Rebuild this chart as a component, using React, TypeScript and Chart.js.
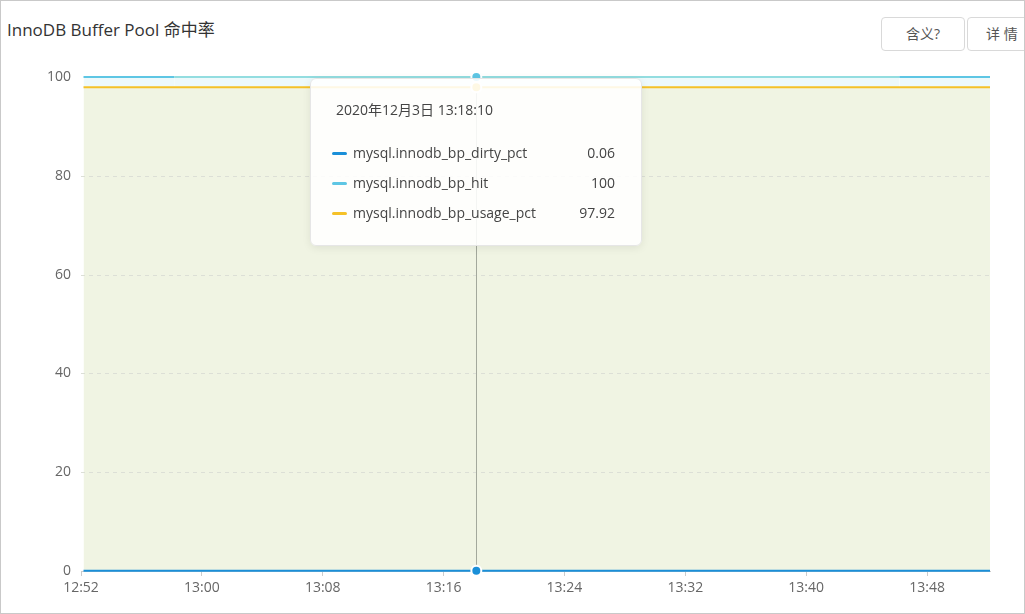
import React, { useEffect, useRef } from 'react';
import { Chart, registerables } from 'chart.js';

Chart.register(...registerables);

// ---- data ----
const pointTimes = [
  '12:52:10', '12:54:10', '12:56:10', '12:58:10', '13:00:10', '13:02:10', '13:04:10', '13:06:10',
  '13:08:10', '13:10:10', '13:12:10', '13:14:10', '13:16:10', '13:18:10', '13:20:10', '13:22:10',
  '13:24:10', '13:26:10', '13:28:10', '13:30:10', '13:32:10', '13:34:10', '13:36:10', '13:38:10',
  '13:40:10', '13:42:10', '13:44:10', '13:46:10', '13:48:10', '13:50:10', '13:52:10',
];
const dirtyPct = [
  0.06, 0.06, 0.05, 0.06, 0.07, 0.06, 0.06, 0.05, 0.06, 0.06, 0.07, 0.06, 0.06, 0.06, 0.05, 0.06,
  0.06, 0.07, 0.06, 0.06, 0.05, 0.06, 0.06, 0.06, 0.07, 0.06, 0.06, 0.05, 0.06, 0.06, 0.06,
];
const hitPct = [
  100, 100, 100, 100, 100, 100, 100, 100, 100, 100, 100, 100, 100, 100, 100, 100,
  100, 100, 100, 100, 100, 100, 100, 100, 100, 100, 100, 100, 100, 100, 100,
];
const usagePct = [
  97.92, 97.92, 97.92, 97.92, 97.92, 97.92, 97.92, 97.92, 97.92, 97.92, 97.92, 97.92, 97.92, 97.92, 97.92, 97.92,
  97.92, 97.92, 97.92, 97.92, 97.92, 97.92, 97.92, 97.92, 97.92, 97.92, 97.92, 97.92, 97.92, 97.92, 97.92,
];
const seriesNames = ['mysql.innodb_bp_dirty_pct', 'mysql.innodb_bp_hit', 'mysql.innodb_bp_usage_pct'];
const xTickLabels = ['12:52', '13:00', '13:08', '13:16', '13:24', '13:32', '13:40', '13:48'];
const yTickValues = [0, 20, 40, 60, 80, 100];
const axisStart = '12:52:00';
const axisEnd = '13:52:10';
const tooltipDate = '2020年12月3日';
const activeTime = '13:18:10';

// ---- styles ----
const FONT = '"Open Sans", "Noto Sans CJK SC", sans-serif';
const C_DIRTY = '#1a8fd8';
const C_HIT = '#5ec6e4';
const C_HIT_LIGHT = '#93dde0';
const C_USAGE = '#f5c127';
const HIT_DARK_UNTIL = 3;
const HIT_DARK_FROM = 27;

const toSec = (t: string) => {
  const p = t.split(':').map(Number);
  return p[0] * 3600 + p[1] * 60 + (p[2] || 0);
};
const base = toSec(axisStart);
const xs = pointTimes.map((t) => toSec(t) - base);
const toXY = (vals: number[]) => vals.map((v, i) => ({ x: xs[i], y: v }));

export default function App() {
  const canvasRef = useRef<HTMLCanvasElement | null>(null);
  const tipRef = useRef<HTMLDivElement | null>(null);

  useEffect(() => {
    const canvas = canvasRef.current!;
    // grid + crosshair drawn after the area fills, before the lines
    const overlay = {
      id: 'overlay',
      beforeDatasetsDraw(chart: any) {
        const ctx = chart.ctx;
        const { left, right, top, bottom } = chart.chartArea;
        const yScale = chart.scales.y;
        ctx.save();
        ctx.strokeStyle = '#dcdfd6';
        ctx.lineWidth = 1;
        ctx.setLineDash([4, 4]);
        yTickValues.forEach((v) => {
          if (v === 0 || v === 100) return;
          const y = Math.round(yScale.getPixelForValue(v)) + 0.5;
          ctx.beginPath();
          ctx.moveTo(left, y);
          ctx.lineTo(right, y);
          ctx.stroke();
        });
        ctx.setLineDash([]);
        const act = chart.getActiveElements();
        if (act.length) {
          const x = Math.round(act[0].element.x) + 0.5;
          ctx.strokeStyle = '#a3a89c';
          ctx.beginPath();
          ctx.moveTo(x, top);
          ctx.lineTo(x, bottom);
          ctx.stroke();
        }
        ctx.restore();
      },
    };

    const external = (context: any) => {
      const { chart, tooltip } = context;
      const el = tipRef.current;
      if (!el) return;
      if (!tooltip || !tooltip.dataPoints || !tooltip.dataPoints.length) {
        el.style.display = 'none';
        return;
      }
      const colors = [C_DIRTY, C_HIT, C_USAGE];
      const idx = tooltip.dataPoints[0].dataIndex;
      let html = `<div style="padding-left:4px;line-height:20px;height:20px;margin-bottom:18px;color:#444">${tooltipDate} ${pointTimes[idx]}</div>`;
      tooltip.dataPoints.forEach((dp: any) => {
        html += `<div style="display:flex;align-items:center;height:30px;line-height:30px">
          <span style="display:inline-block;width:15px;height:3px;border-radius:2px;background:${colors[dp.datasetIndex]};margin-right:6px"></span>
          <span style="flex:1;color:#444">${seriesNames[dp.datasetIndex]}</span>
          <span style="color:#444">${dp.raw.y}</span>
        </div>`;
      });
      el.innerHTML = html;
      el.style.display = 'block';
      const w = 332;
      el.style.left = Math.round(tooltip.caretX - w / 2) + 'px';
      el.style.top = Math.round(chart.chartArea.top + 1) + 'px';
    };

    const chart = new Chart(canvas, {
      type: 'line',
      data: {
        datasets: [
          {
            label: seriesNames[0],
            data: toXY(dirtyPct),
            borderColor: C_DIRTY,
            backgroundColor: C_DIRTY,
            borderWidth: 2,
            fill: false,
            pointRadius: 0,
            pointHoverRadius: 5,
            pointHoverBorderWidth: 2,
            pointHoverBorderColor: '#ffffff',
            pointHoverBackgroundColor: C_DIRTY,
            clip: 10,
          },
          {
            label: seriesNames[1],
            data: toXY(hitPct),
            borderColor: C_HIT,
            backgroundColor: '#edf9fb',
            borderWidth: 2,
            fill: '+1',
            pointRadius: 0,
            pointHoverRadius: 5,
            pointHoverBorderWidth: 2,
            pointHoverBorderColor: '#ffffff',
            pointHoverBackgroundColor: C_HIT,
            clip: 10,
            segment: {
              borderColor: (ctx: any) =>
                ctx.p0DataIndex < HIT_DARK_UNTIL || ctx.p0DataIndex >= HIT_DARK_FROM ? C_HIT : C_HIT_LIGHT,
            },
          },
          {
            label: seriesNames[2],
            data: toXY(usagePct),
            borderColor: C_USAGE,
            backgroundColor: '#f0f4e3',
            borderWidth: 2,
            fill: 'origin',
            pointRadius: 0,
            pointHoverRadius: 5,
            pointHoverBorderWidth: 2,
            pointHoverBorderColor: '#ffffff',
            pointHoverBackgroundColor: C_USAGE,
            clip: 10,
          },
        ],
      },
      options: {
        animation: false,
        responsive: false,
        events: [],
        layout: { padding: { left: 0, right: 35, top: 77, bottom: 0 } },
        plugins: {
          legend: { display: false },
          title: { display: false },
          filler: { drawTime: 'beforeDatasetsDraw' } as any,
          tooltip: { enabled: false, external, mode: 'index', intersect: false } as any,
        },
        scales: {
          x: {
            type: 'linear',
            min: 0,
            max: toSec(axisEnd) - base,
            afterBuildTicks: (scale: any) => {
              scale.ticks = xTickLabels.map((l) => ({ value: toSec(l) - base }));
            },
            afterFit: (scale: any) => {
              scale.height = 43;
            },
            ticks: {
              color: '#666',
              font: { family: FONT, size: 14 },
              padding: 4,
              maxRotation: 0,
              autoSkip: false,
              callback: (v: any) => {
                const s = Number(v) + base;
                const h = Math.floor(s / 3600);
                const m = Math.floor((s % 3600) / 60);
                return `${h}:${String(m).padStart(2, '0')}`;
              },
            },
            grid: { display: true, drawOnChartArea: false, drawTicks: true, tickLength: 5, color: '#cccccc' },
            border: { display: true, color: '#cccccc' },
          },
          y: {
            min: 0,
            max: 100,
            afterBuildTicks: (scale: any) => {
              scale.ticks = yTickValues.map((v) => ({ value: v }));
            },
            afterFit: (scale: any) => {
              scale.width = 81;
            },
            ticks: {
              color: '#666',
              font: { family: FONT, size: 14 },
              padding: 10,
            },
            grid: { display: false, drawTicks: false },
            border: { display: false },
          },
        },
      } as any,
      plugins: [overlay],
    });

    const ai = pointTimes.indexOf(activeTime);
    const els = [0, 1, 2].map((d) => ({ datasetIndex: d, index: ai }));
    chart.setActiveElements(els);
    const pt: any = chart.getDatasetMeta(0).data[ai];
    chart.tooltip!.setActiveElements(els, { x: pt.x, y: pt.y });
    chart.update();

    return () => chart.destroy();
  }, []);

  const btn: React.CSSProperties = {
    position: 'absolute',
    top: 17,
    height: 34,
    boxSizing: 'border-box',
    border: '1px solid #d9d9d9',
    borderRadius: 4,
    background: '#fff',
    fontFamily: FONT,
    fontSize: 14,
    color: '#555',
    lineHeight: '32px',
    textAlign: 'center',
  };

  return (
    <div
      style={{
        position: 'absolute',
        left: 0,
        top: 0,
        width: 1025,
        height: 614,
        overflow: 'hidden',
        background: '#fff',
        fontFamily: FONT,
      }}
    >
      <div
        style={{
          position: 'absolute',
          left: 7,
          top: 20,
          fontSize: 17,
          lineHeight: '20px',
          color: '#333',
          whiteSpace: 'nowrap',
        }}
      >
        InnoDB Buffer Pool 命中率
      </div>
      <div style={{ ...btn, left: 881, width: 84 }}>含义?</div>
      <div style={{ ...btn, left: 967, width: 76, textAlign: 'left', paddingLeft: 18 }}>详 情</div>
      <canvas
        ref={canvasRef}
        width={1025}
        height={614}
        style={{ position: 'absolute', left: 0, top: 0, width: 1025, height: 614 }}
      />
      <div
        ref={tipRef}
        style={{
          position: 'absolute',
          display: 'none',
          width: 332,
          height: 168,
          boxSizing: 'border-box',
          padding: '21px 26px 19px 21px',
          background: 'rgba(255,255,255,0.88)',
          border: '1px solid #e6e6e6',
          borderRadius: 6,
          boxShadow: '0 2px 8px rgba(0,0,0,0.08)',
          fontFamily: FONT,
          fontSize: 14,
          color: '#444',
          pointerEvents: 'none',
        }}
      />
      <div
        style={{
          position: 'absolute',
          left: 0,
          top: 0,
          width: 1025,
          height: 614,
          boxSizing: 'border-box',
          border: '1px solid #c9c9c9',
          pointerEvents: 'none',
        }}
      />
    </div>
  );
}
